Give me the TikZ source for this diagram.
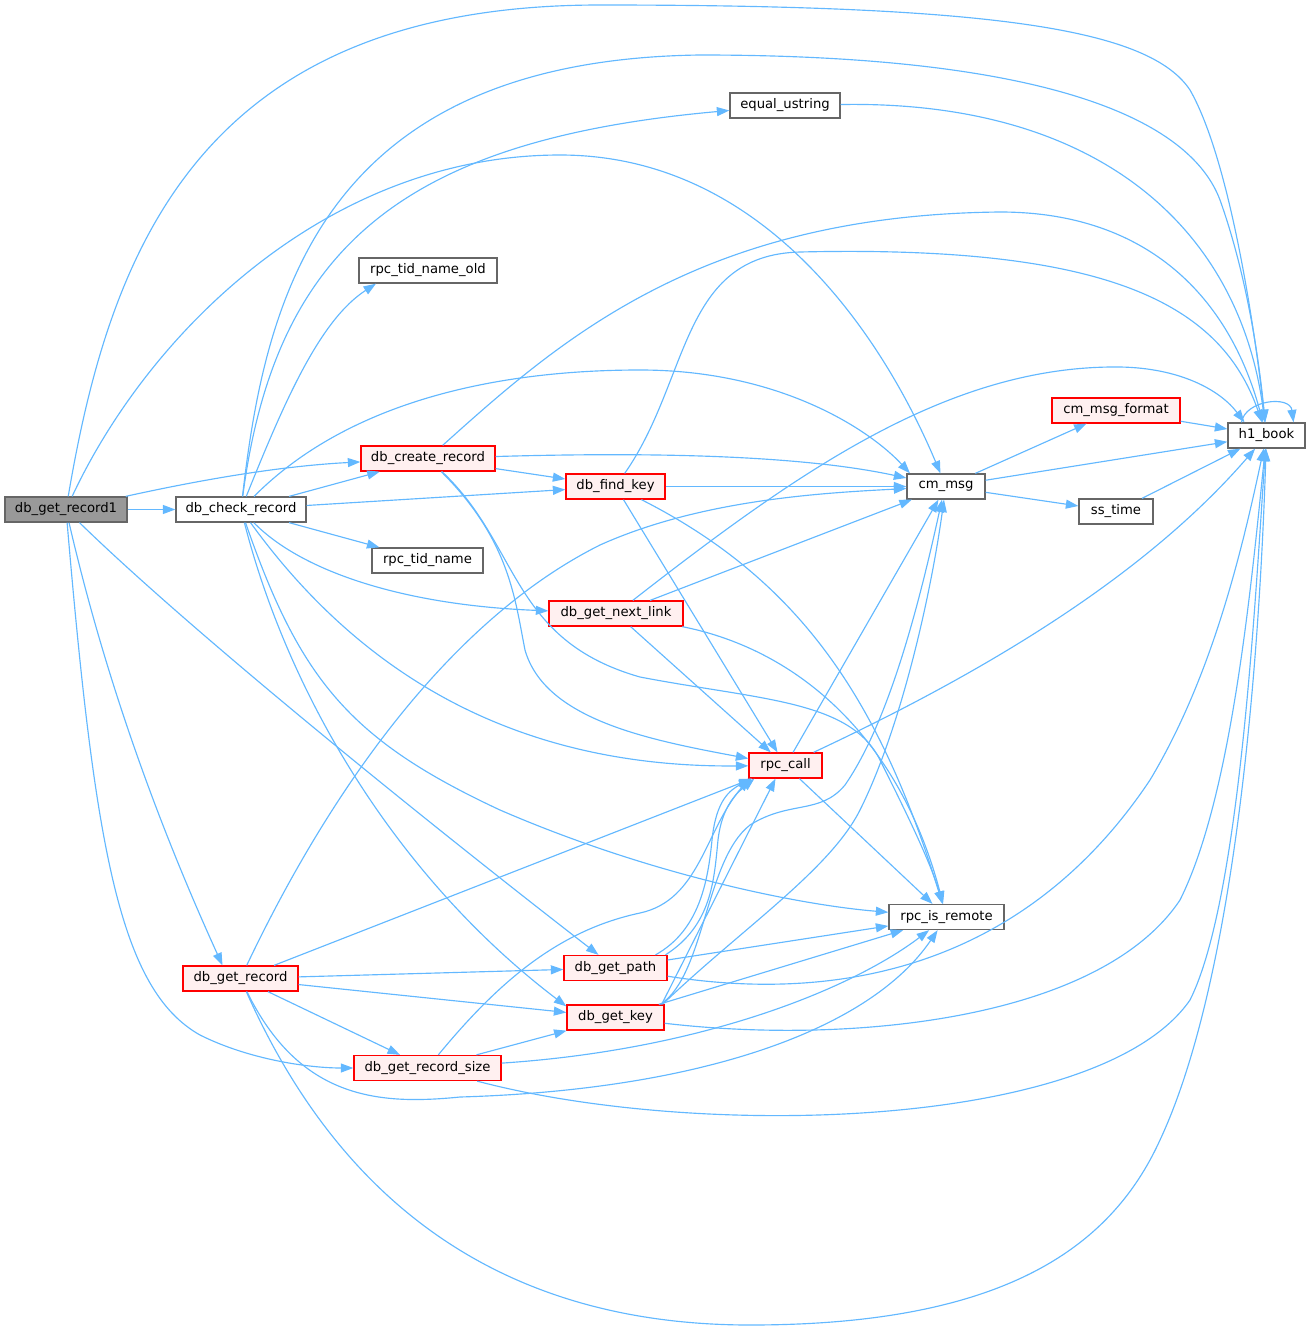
\documentclass[tikz,border=0pt]{standalone}
\usepackage{fontspec}
\setmainfont{DejaVu Sans}
\usetikzlibrary{arrows.meta}
\definecolor{edgeblue}{HTML}{63B8FF}
\definecolor{ndgray}{HTML}{666666}
\definecolor{rdfill}{HTML}{FFF0F0}
\definecolor{rtgray}{HTML}{999999}
\tikzset{
  nd/.style={draw=ndgray, fill=white, line width=1.3pt, minimum height=25pt, inner sep=0pt, font=\fontsize{13.2}{15}\selectfont, text=black},
  rdn/.style={nd, draw=red, fill=rdfill},
  rt/.style={nd, fill=rtgray},
  ed/.style={draw=edgeblue, line width=1.15pt, -{Triangle[length=12.5pt,width=9pt]}}
}
\begin{document}
\begin{tikzpicture}[x=1pt,y=-1pt]
\useasboundingbox (0,0) rectangle (1311,1328);
% nodes
\node[rt,  minimum width=122pt] (root)     at (66,509.5)    {db\_get\_record1};
\node[nd,  minimum width=130pt] (check)    at (241,509.5)   {db\_check\_record};
\node[rdn, minimum width=134pt] (create)   at (428,458.5)   {db\_create\_record};
\node[nd,  minimum width=138pt] (tidold)   at (428,270.5)   {rpc\_tid\_name\_old};
\node[nd,  minimum width=111pt] (tid)      at (427.5,560.5) {rpc\_tid\_name};
\node[nd,  minimum width=110pt] (equal)    at (785,105.5)   {equal\_ustring};
\node[rdn, minimum width=99pt]  (findkey)  at (615.5,486.5) {db\_find\_key};
\node[rdn, minimum width=134pt] (nextlink) at (616,613.5)   {db\_get\_next\_link};
\node[nd,  minimum width=78pt]  (cmmsg)    at (946,486.5)   {cm\_msg};
\node[rdn, minimum width=128pt] (cmfmt)    at (1116,410.5)  {cm\_msg\_format};
\node[nd,  minimum width=74pt]  (sstime)   at (1116,511.5)  {ss\_time};
\node[nd,  minimum width=77pt]  (hbook)    at (1266.5,435.5) {h1\_book};
\node[rdn, minimum width=73pt]  (rpccall)  at (785.5,765.5) {rpc\_call};
\node[nd,  minimum width=115pt] (remote)   at (946.5,917)   {rpc\_is\_remote};
\node[rdn, minimum width=103pt] (getpath)  at (615.5,968)   {db\_get\_path};
\node[rdn, minimum width=97pt]  (getkey)   at (615.5,1017.5) {db\_get\_key};
\node[rdn, minimum width=115pt] (getrec)   at (240.5,978.5) {db\_get\_record};
\node[rdn, minimum width=147pt] (recsize)  at (427.5,1068)  {db\_get\_record\_size};

% db_get_record1
\draw[ed] (root) -- (check);
\draw[ed] (root) .. controls (200,480) and (280,466) .. (create);
\draw[ed] (root) .. controls (110,250) and (200,5) .. (600,5) .. controls (1000,5) and (1150,30) .. (1190,90) .. controls (1230,160) and (1255,330) .. (hbook);
\draw[ed] (root) .. controls (150,330) and (330,155) .. (560,155) .. controls (760,155) and (880,330) .. (cmmsg);
\draw[ed] (root) .. controls (200,640) and (450,840) .. (getpath);
\draw[ed] (root) .. controls (110,700) and (170,850) .. ([xshift=-18pt]getrec.north);
\draw[ed] (root) .. controls (95,850) and (120,990) .. (200,1035) .. controls (250,1060) and (310,1068) .. (recsize);

% db_check_record
\draw[ed] (check) .. controls (265,300) and (320,60) .. (700,55) .. controls (1050,55) and (1190,120) .. (1220,200) .. controls (1245,270) and (1258,350) .. (hbook);
\draw[ed] (check) .. controls (275,250) and (400,140) .. (equal);
\draw[ed] (check) .. controls (285,400) and (320,320) .. ([xshift=-52pt]tidold.south);
\draw[ed] (check) .. controls (350,400) and (500,370) .. (640,370) .. controls (780,370) and (870,430) .. ([xshift=-36pt]cmmsg.north);
\draw[ed] (check) -- (create);
\draw[ed] (check) -- (findkey);
\draw[ed] (check) -- (tid);
\draw[ed] (check) .. controls (300,570) and (400,605) .. (nextlink);
\draw[ed] (check) .. controls (350,660) and (500,768) .. (rpccall);
\draw[ed] (check) .. controls (300,680) and (350,740) .. (500,810) .. controls (650,875) and (800,905) .. (remote);
\draw[ed] (check) .. controls (290,700) and (400,880) .. ([yshift=-2pt]getkey.north west);

% db_create_record
\draw[ed] (create) .. controls (560,340) and (700,215) .. (1000,212) .. controls (1150,212) and (1230,300) .. (hbook);
\draw[ed] (create) .. controls (650,452) and (800,455) .. (cmmsg);
\draw[ed] (create) -- (findkey);
\draw[ed] (create) .. controls (510,540) and (515,600) .. (525,650) .. controls (545,720) and (650,740) .. (rpccall);
\draw[ed] (create) .. controls (520,545) and (510,640) .. (640,677) .. controls (760,700) and (850,700) .. (880,760) .. controls (900,800) and (930,860) .. (remote);

% db_find_key
\draw[ed] (findkey) .. controls (690,380) and (680,255) .. (800,252) .. controls (1100,245) and (1220,300) .. (hbook);
\draw[ed] (findkey) -- (cmmsg);
\draw[ed] (findkey) -- (rpccall);
\draw[ed] (findkey) .. controls (800,580) and (880,700) .. (remote);

% db_get_next_link
\draw[ed] (nextlink) .. controls (800,470) and (950,365) .. (1120,367) .. controls (1180,368) and (1220,390) .. ([xshift=-22pt]hbook.north);
\draw[ed] (nextlink) -- (cmmsg);
\draw[ed] (nextlink) -- (rpccall);
\draw[ed] (nextlink) .. controls (800,650) and (900,740) .. (remote);

% rpc_call
\draw[ed] (rpccall) -- (cmmsg);
\draw[ed] (rpccall) .. controls (1000,665) and (1150,570) .. (hbook);
\draw[ed] (rpccall) -- (remote);

% cm_msg and others
\draw[ed] (cmmsg) -- (cmfmt);
\draw[ed] (cmmsg) -- (hbook);
\draw[ed] (cmmsg) -- (sstime);
\draw[ed] (cmfmt) -- (hbook);
\draw[ed] (sstime) -- (hbook);
\draw[ed] (equal) .. controls (1100,100) and (1240,230) .. (hbook);
\draw[ed] ([xshift=-25pt]hbook.north) .. controls (1245,400) and (1290,395) .. ([xshift=27pt]hbook.north);

% db_get_path
\draw[ed] ([xshift=40pt]getpath.north) .. controls (700,930) and (708,880) .. (712,840) .. controls (716,800) and (730,790) .. ([xshift=3pt]rpccall.south west);
\draw[ed] ([xshift=50pt]getpath.north) .. controls (712,925) and (714,880) .. (718,840) .. controls (722,805) and (738,792) .. ([xshift=6pt]rpccall.south west);
\draw[ed] (getpath) -- (remote);
\draw[ed] (getpath) .. controls (850,1005) and (1030,960) .. (1150,780) .. controls (1210,680) and (1240,560) .. (hbook);

% db_get_key
\draw[ed] ([xshift=-3pt]getkey.north east) -- ([xshift=-10pt]rpccall.south);
\draw[ed] ([xshift=45pt]getkey.north) .. controls (705,975) and (705,860) .. (750,825) .. controls (790,800) and (820,815) .. (845,785) .. controls (890,720) and (920,600) .. ([xshift=-4pt]cmmsg.south);
\draw[ed] ([xshift=47pt]getkey.north) .. controls (740,930) and (830,870) .. (860,810) .. controls (900,730) and (930,600) .. ([xshift=-2pt]cmmsg.south);
\draw[ed] (getkey) -- (remote);
\draw[ed] (getkey) .. controls (850,1045) and (1100,1020) .. (1180,900) .. controls (1230,800) and (1250,600) .. (hbook);

% db_get_record
\draw[ed] (getrec) -- (getpath);
\draw[ed] (getrec) -- (getkey);
\draw[ed] (getrec) -- (recsize);
\draw[ed] (getrec) -- (rpccall);
\draw[ed] (getrec) .. controls (330,790) and (450,620) .. (600,545) .. controls (700,500) and (820,493) .. (cmmsg);
\draw[ed] (getrec) .. controls (300,1100) and (380,1105) .. (460,1097) .. controls (700,1090) and (870,1030) .. (remote);
\draw[ed] (getrec) .. controls (330,1180) and (480,1325) .. (750,1325) .. controls (1000,1325) and (1110,1250) .. (1160,1140) .. controls (1230,990) and (1258,700) .. (hbook);

% db_get_record_size
\draw[ed] (recsize) -- (getkey);
\draw[ed] (recsize) .. controls (500,980) and (560,930) .. (640,913) .. controls (700,900) and (705,830) .. ([xshift=1pt]rpccall.south west);
\draw[ed] (recsize) .. controls (700,1050) and (850,990) .. (remote);
\draw[ed] (recsize) .. controls (700,1140) and (1100,1130) .. (1190,1000) .. controls (1240,900) and (1255,600) .. (hbook);
\end{tikzpicture}
\end{document}
